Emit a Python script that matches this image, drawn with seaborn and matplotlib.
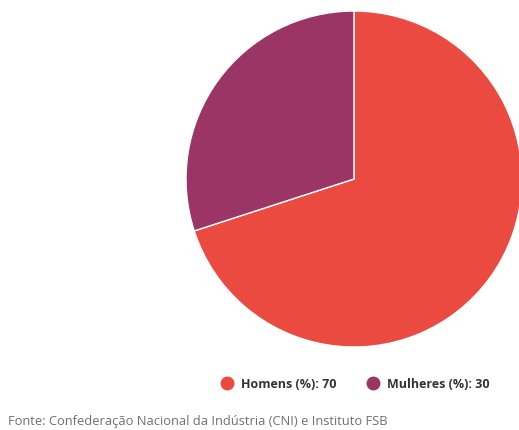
import matplotlib
matplotlib.use("Agg")
import matplotlib.pyplot as plt
import seaborn as sns
from matplotlib.lines import Line2D

categories = ["Homens (%)", "Mulheres (%)"]
values = [70, 30]
colors = ["#ea4a3f", "#9b3566"]
source = "Fonte: Confederação Nacional da Indústria (CNI) e Instituto FSB"

sns.set_theme(style="white")
plt.rcParams["font.family"] = ["Open Sans", "DejaVu Sans"]

fig = plt.figure(figsize=(5.19, 4.30), dpi=100)
ax = fig.add_axes([0.3584, 0.193, 0.6474, 0.7814])
ax.pie(values, colors=sns.color_palette(colors), startangle=90, counterclock=False,
       wedgeprops=dict(edgecolor="white", linewidth=1))
ax.set_aspect("equal")
ax.set_xlim(-1, 1)
ax.set_ylim(-1, 1)

handles = [Line2D([0], [0], marker="o", linestyle="", markersize=9,
                  markerfacecolor=c, markeredgecolor=c) for c in colors]
labels = [f"{c}: {v}" for c, v in zip(categories, values)]
leg = fig.legend(handles, labels, loc="center", bbox_to_anchor=(352/519, 1 - 384/430),
                 ncol=2, frameon=False, handletextpad=0.1, columnspacing=1.9,
                 prop=dict(weight="bold", size=9))
for t in leg.get_texts():
    t.set_color("#333333")

fig.text(8/519, 1 - 421/430, source, ha="left", va="center", fontsize=9.3, color="#707070")

fig.savefig("out.png", dpi=100)
